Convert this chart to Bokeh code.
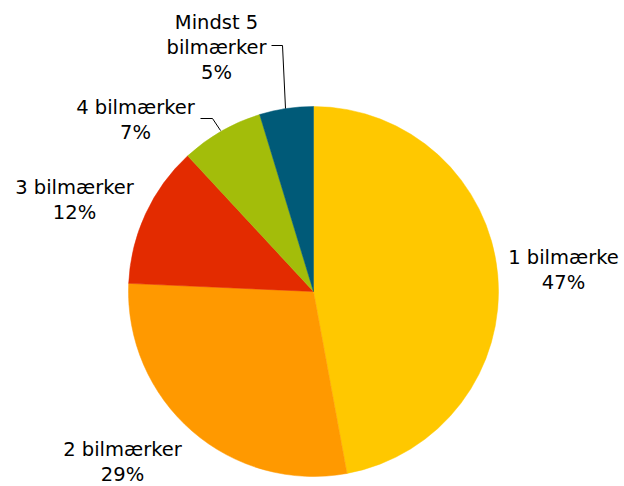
import math
from bokeh.plotting import figure
from bokeh.models import Range1d, ColumnDataSource
from bokeh.core.properties import value
from bokeh.embed import file_html
from bokeh.resources import INLINE

# ---- data ----
categories = ["1 bilmærke", "2 bilmærker", "3 bilmærker", "4 bilmærker", "Mindst 5 bilmærker"]
shares = [47.1, 28.6, 12.4, 7.2, 4.7]
colors = ["#FFC800", "#FF9900", "#E32B00", "#A3BD0A", "#005A78"]
label_names = [["1 bilmærke"], ["2 bilmærker"], ["3 bilmærker"], ["4 bilmærker"],
               ["Mindst 5", "bilmærker"]]

# ---- layout (pixel coordinates of the page, y downwards) ----
W, H = 624, 486
CX, CY, R = 313, 291, 185
LINE = 25
# y of the first text line of each label, x centre
label_pos = [(563, 257), (122, 449), (74, 187), (135, 107), (216, 22)]
leaders = {
    3: [(200, 118), (212, 118), (220, 130)],
    4: [(271, 45), (282, 45), (285, 108)],
}


def dy(ypix):
    return H - ypix


p = figure(width=W, height=H, output_backend="svg", toolbar_location=None,
           x_range=Range1d(0, W), y_range=Range1d(0, H),
           min_border=0, outline_line_color=None)
p.axis.visible = False
p.grid.visible = False
p.background_fill_color = "white"
p.border_fill_color = "white"

total = sum(shares)
starts, ends = [], []
cum = 0.0
for s in shares:
    starts.append(math.pi / 2 - 2 * math.pi * cum / total)
    cum += s
    ends.append(math.pi / 2 - 2 * math.pi * cum / total)

src = ColumnDataSource(dict(start=starts, end=ends, color=colors, cat=categories))
p.wedge(x=CX, y=dy(CY), radius=R, start_angle="start", end_angle="end",
        direction="clock", fill_color="color", line_color="color", line_width=0.5,
        source=src)

# leader lines
for i, pts in leaders.items():
    p.line([q[0] for q in pts], [dy(q[1]) for q in pts], line_color="#000000",
           line_width=1)

xs, ys, txt = [], [], []
for (lx, ly), names, s in zip(label_pos, label_names, shares):
    lines = names + [f"{round(s):d}%"]
    for k, t in enumerate(lines):
        xs.append(lx)
        ys.append(dy(ly + k * LINE))
        txt.append(t)

lsrc = ColumnDataSource(dict(x=xs, y=ys, text=txt))
p.text(x="x", y="y", text="text", source=lsrc, text_font=value("DejaVu Sans"),
       text_font_size="19.5px", text_align="center", text_baseline="middle",
       text_color="#000000")

open("out.html", "w").write(file_html(p, INLINE))
